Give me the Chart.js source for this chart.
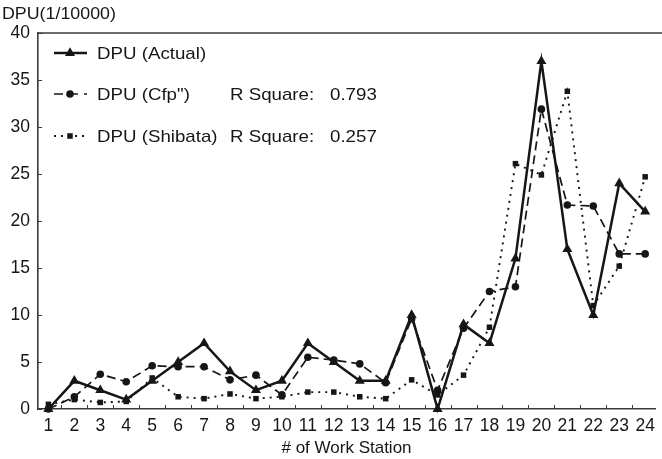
<!DOCTYPE html>
<html>
<head>
<meta charset="utf-8">
<script src="https://cdn.jsdelivr.net/npm/chart.js@4/dist/chart.umd.min.js"></script>
<style>
  html, body { margin: 0; padding: 0; background: #fff; }
  #wrap { width: 662px; height: 459px; position: relative; }
</style>
</head>
<body>
<div id="wrap"><canvas id="c" width="662" height="459"></canvas></div>
<script>
// Work stations along the x axis
const stations = [1,2,3,4,5,6,7,8,9,10,11,12,13,14,15,16,17,18,19,20,21,22,23,24];
// Defects per unit (1/10000)
const dpuActual  = [0,3,2,1,3,5,7,4,2,3,7,5,3,3,10,0,9,7,16,37,17,10,24,21];
const dpuCfp     = [0,1.3,3.7,2.9,4.6,4.5,4.5,3.1,3.6,1.5,5.5,5.2,4.8,2.8,9.6,2.0,8.6,12.5,13.0,31.9,21.7,21.6,16.5,16.5];
const dpuShibata = [0.5,1.0,0.7,0.8,3.3,1.3,1.1,1.6,1.1,1.3,1.8,1.8,1.3,1.1,3.1,1.5,3.6,8.7,26.1,24.9,33.8,11.0,15.2,24.7];
const seriesNames = ['DPU (Actual)', 'DPU (Cfp")', 'DPU (Shibata)'];
const rSquare = [null, '0.793', '0.257'];
const yTicks = [0,5,10,15,20,25,30,35,40];

const INK = '#161616';
const AXIS = '#3a3a3a';
const FONT = '"Liberation Sans", Arial, sans-serif';

const toXY = arr => arr.map((v, i) => ({ x: stations[i], y: v }));

const datasets = [
  { label: seriesNames[0], data: toXY(dpuActual), borderColor: INK, backgroundColor: INK,
    borderWidth: 2.5, borderDash: [], pointStyle: 'triangle', pointRadius: 5.8 },
  { label: seriesNames[1], data: toXY(dpuCfp), borderColor: INK, backgroundColor: INK,
    borderWidth: 1.7, borderDash: [9, 5], pointStyle: 'circle', pointRadius: 3.8 },
  { label: seriesNames[2], data: toXY(dpuShibata), borderColor: INK, backgroundColor: INK,
    borderWidth: 1.9, borderDash: [2, 5], pointStyle: 'rect', pointRadius: 3.9 }
].map(d => Object.assign(d, { fill: false, tension: 0, pointBorderWidth: 0, clip: false }));

// text drawn slightly widened horizontally
function wideText(ctx, text, x, y, sx) {
  ctx.save();
  ctx.translate(x, y);
  ctx.scale(sx, 1);
  ctx.fillText(text, 0, 0);
  ctx.restore();
}

// Frame, inward tick marks, axis caption and the in-plot legend
const decor = {
  id: 'decor',
  afterDraw(chart) {
    const ctx = chart.ctx;
    const a = chart.chartArea;
    const xs = chart.scales.x, ys = chart.scales.y;
    ctx.save();
    // top border
    ctx.strokeStyle = AXIS;
    ctx.lineWidth = 1.6;
    ctx.beginPath();
    ctx.moveTo(a.left, a.top);
    ctx.lineTo(chart.width, a.top);
    ctx.stroke();
    // y ticks pointing inward
    ctx.lineWidth = 1;
    yTicks.forEach(v => {
      const y = Math.round(ys.getPixelForValue(v)) + 0.5;
      ctx.beginPath();
      ctx.moveTo(a.left, y);
      ctx.lineTo(a.left + 4, y);
      ctx.stroke();
    });
    // x ticks between stations, pointing inward
    for (let i = 0; i < stations.length - 1; i++) {
      const x = Math.round(xs.getPixelForValue(stations[i] + 0.5)) + 0.5;
      ctx.beginPath();
      ctx.moveTo(x, a.bottom);
      ctx.lineTo(x, a.bottom - 4);
      ctx.stroke();
    }
    // unit caption above the y axis
    ctx.fillStyle = INK;
    ctx.font = '16.5px ' + FONT;
    ctx.textBaseline = 'middle';
    ctx.textAlign = 'left';
    wideText(ctx, 'DPU(1/10000)', 2, 14, 1.08);
    // legend
    const rows = [53, 94, 136];
    chart.data.datasets.forEach((ds, i) => {
      const y = rows[i];
      ctx.strokeStyle = ds.borderColor;
      ctx.lineWidth = ds.borderWidth;
      ctx.setLineDash(i === 1 ? [9, 6] : ds.borderDash);
      ctx.beginPath();
      ctx.moveTo(54, y);
      ctx.lineTo(87, y);
      ctx.stroke();
      ctx.setLineDash([]);
      ctx.fillStyle = ds.backgroundColor;
      Chart.helpers.drawPoint(ctx, {
        pointStyle: ds.pointStyle, radius: ds.pointRadius, borderWidth: 0, rotation: 0
      }, 70, y);
      ctx.fillStyle = INK;
      ctx.font = '17px ' + FONT;
      wideText(ctx, ds.label, 97, y + 1, 1.1);
      if (rSquare[i]) {
        wideText(ctx, 'R Square:', 230, y + 1, 1.1);
        wideText(ctx, rSquare[i], 330, y + 1, 1.1);
      }
    });
    ctx.restore();
  }
};

new Chart(document.getElementById('c'), {
  type: 'line',
  data: { datasets },
  options: {
    responsive: false,
    animation: false,
    layout: { padding: { top: 33, right: 0, left: 0, bottom: 0 } },
    plugins: { legend: { display: false }, tooltip: { enabled: false } },
    scales: {
      x: {
        type: 'linear',
        min: 0.6, max: 24.38,
        afterBuildTicks: s => { s.ticks = stations.map(v => ({ value: v })); },
        grid: { display: false, drawTicks: false },
        border: { display: true, color: AXIS, width: 1.6 },
        ticks: { color: INK, font: { family: FONT, size: 17.5 }, padding: 7, maxRotation: 0, autoSkip: false },
        title: { display: true, text: '# of Work Station', color: INK, font: { family: FONT, size: 17 }, padding: { top: 0, bottom: 0 } },
        afterFit: s => { s.height = 50; }
      },
      y: {
        type: 'linear',
        min: 0, max: 40,
        afterBuildTicks: s => { s.ticks = yTicks.map(v => ({ value: v })); },
        grid: { display: false, drawTicks: false },
        border: { display: true, color: AXIS, width: 1.6 },
        ticks: { color: INK, font: { family: FONT, size: 17.5 }, padding: 8 },
        afterFit: s => { s.width = 38; }
      }
    }
  },
  plugins: [decor]
});
</script>
</body>
</html>
